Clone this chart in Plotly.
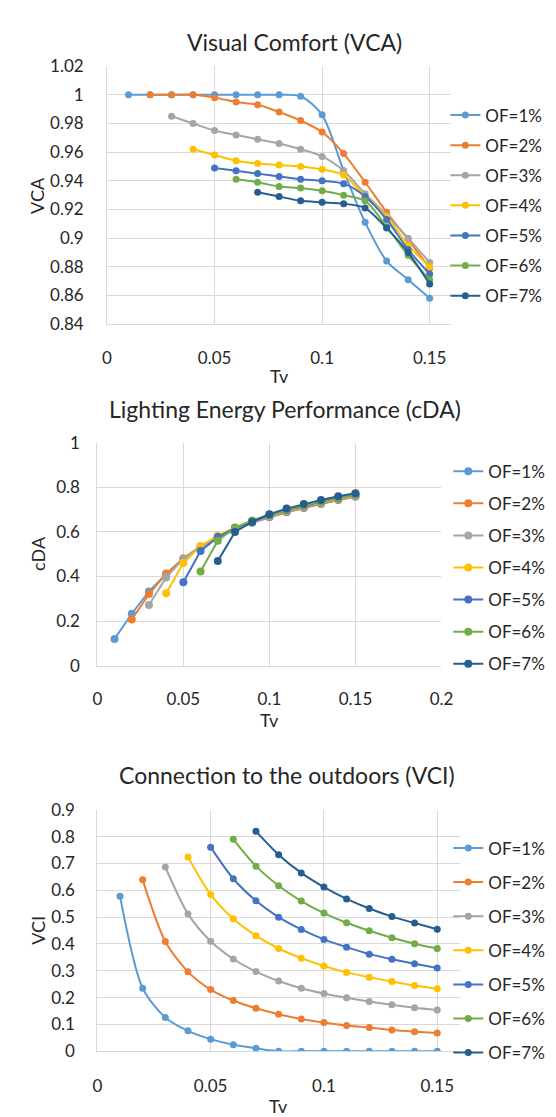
import plotly.graph_objects as go

W, H = 556, 1117

TV = [0.01, 0.02, 0.03, 0.04, 0.05, 0.06, 0.07, 0.08, 0.09, 0.10, 0.11, 0.12, 0.13, 0.14, 0.15]
SERIES = ["OF=1%", "OF=2%", "OF=3%", "OF=4%", "OF=5%", "OF=6%", "OF=7%"]
COLORS = ["#5B9BD5", "#ED7D31", "#A5A5A5", "#FFC000", "#4472C4", "#70AD47", "#255E91"]

# Visual Comfort (VCA); series OF=k% starts at Tv = 0.0k
vca_of1 = [1.000, 1.000, 1.000, 1.000, 1.000, 1.000, 1.000, 1.000, 0.999, 0.986, 0.947, 0.911, 0.884, 0.871, 0.858]
vca_of2 = [1.000, 1.000, 1.000, 0.998, 0.995, 0.993, 0.988, 0.982, 0.974, 0.959, 0.939, 0.918, 0.899, 0.879]
vca_of3 = [0.985, 0.980, 0.975, 0.972, 0.969, 0.966, 0.962, 0.957, 0.947, 0.931, 0.916, 0.900, 0.883]
vca_of4 = [0.962, 0.958, 0.954, 0.952, 0.951, 0.950, 0.948, 0.944, 0.929, 0.915, 0.895, 0.880]
vca_of5 = [0.949, 0.947, 0.945, 0.943, 0.941, 0.940, 0.938, 0.929, 0.913, 0.892, 0.875]
vca_of6 = [0.941, 0.939, 0.936, 0.935, 0.933, 0.930, 0.926, 0.908, 0.888, 0.871]
vca_of7 = [0.932, 0.929, 0.926, 0.925, 0.924, 0.921, 0.907, 0.890, 0.868]

# Lighting Energy Performance (cDA)
cda_of1 = [0.120, 0.233, 0.333, 0.410, 0.478, 0.532, 0.575, 0.610, 0.641, 0.666, 0.688, 0.708, 0.726, 0.743, 0.758]
cda_of2 = [0.207, 0.321, 0.413, 0.482, 0.535, 0.578, 0.613, 0.643, 0.668, 0.690, 0.710, 0.728, 0.745, 0.760]
cda_of3 = [0.272, 0.396, 0.480, 0.535, 0.580, 0.616, 0.646, 0.671, 0.693, 0.713, 0.731, 0.748, 0.762]
cda_of4 = [0.325, 0.461, 0.537, 0.583, 0.619, 0.649, 0.674, 0.696, 0.716, 0.734, 0.751, 0.765]
cda_of5 = [0.374, 0.515, 0.577, 0.618, 0.648, 0.675, 0.698, 0.718, 0.736, 0.753, 0.767]
cda_of6 = [0.423, 0.561, 0.620, 0.652, 0.677, 0.700, 0.720, 0.738, 0.755, 0.769]
cda_of7 = [0.470, 0.600, 0.645, 0.680, 0.705, 0.726, 0.744, 0.760, 0.774]

# Connection to the outdoors (VCI)
vci_of1 = [0.578, 0.235, 0.126, 0.076, 0.045, 0.024, 0.011, 0.000, 0.000, 0.000, 0.000, 0.000, 0.000, 0.000, 0.000]
vci_of2 = [0.639, 0.409, 0.296, 0.230, 0.189, 0.160, 0.138, 0.120, 0.107, 0.096, 0.088, 0.079, 0.073, 0.068]
vci_of3 = [0.687, 0.512, 0.410, 0.344, 0.297, 0.262, 0.235, 0.215, 0.199, 0.185, 0.173, 0.162, 0.154]
vci_of4 = [0.724, 0.584, 0.494, 0.431, 0.383, 0.347, 0.318, 0.294, 0.276, 0.260, 0.245, 0.233]
vci_of5 = [0.761, 0.643, 0.561, 0.500, 0.454, 0.417, 0.388, 0.362, 0.343, 0.326, 0.310]
vci_of6 = [0.790, 0.690, 0.617, 0.560, 0.515, 0.479, 0.449, 0.423, 0.401, 0.383]
vci_of7 = [0.820, 0.733, 0.665, 0.612, 0.568, 0.532, 0.502, 0.478, 0.455]

VCA = [vca_of1, vca_of2, vca_of3, vca_of4, vca_of5, vca_of6, vca_of7]
CDA = [cda_of1, cda_of2, cda_of3, cda_of4, cda_of5, cda_of6, cda_of7]
VCI = [vci_of1, vci_of2, vci_of3, vci_of4, vci_of5, vci_of6, vci_of7]

FONT = "Lato, 'Open Sans', sans-serif"
TXT = "#262626"
GRID = "#D9D9D9"


def px_x(p):
    return p / W


def px_y(p):
    return 1 - p / H


fig = go.Figure()

charts = [
    (VCA, "x", "y", "legend", "spline", 7),
    (CDA, "x2", "y2", "legend2", "linear", 8),
    (VCI, "x3", "y3", "legend3", "spline", 7),
]
for ci, (data, xa, ya, lg, shape, ms) in enumerate(charts):
    for k, vals in enumerate(data):
        fig.add_trace(go.Scatter(
            x=TV[k:], y=vals, name=SERIES[k], mode="lines+markers",
            xaxis=xa, yaxis=ya, legend=lg, legendgroup=f"c{ci}_{k}",
            line=dict(color=COLORS[k], width=2, shape=shape, smoothing=0.8),
            marker=dict(color=COLORS[k], size=ms),
        ))

axis_common = dict(
    showgrid=True, gridcolor=GRID, gridwidth=1, zeroline=False,
    showline=True, linecolor=GRID, linewidth=1,
    tickfont=dict(family=FONT, size=17, color=TXT),
    ticks="outside", tickcolor="rgba(0,0,0,0)",
)

fig.update_layout(
    width=W, height=H, margin=dict(l=0, r=0, t=0, b=0),
    paper_bgcolor="white", plot_bgcolor="white",
    font=dict(family=FONT, color=TXT),
    xaxis=dict(domain=[px_x(97), px_x(452)], range=[0, 0.16], dtick=0.05, anchor="y",
               ticklen=18, **axis_common),
    yaxis=dict(domain=[px_y(311), px_y(48)], range=[0.84, 1.02], dtick=0.02, anchor="x",
               ticklen=19, **axis_common),
    xaxis2=dict(domain=[px_x(87), px_x(442)], range=[0, 0.2], dtick=0.05, anchor="y2",
                ticklen=18, **axis_common),
    yaxis2=dict(domain=[px_y(659), px_y(432)], range=[0, 1], dtick=0.2, anchor="x2",
                ticklen=13, **axis_common),
    xaxis3=dict(domain=[px_x(87), px_x(461)], range=[0, 0.16], dtick=0.05, anchor="y3",
                ticklen=19, **axis_common),
    yaxis3=dict(domain=[px_y(1052), px_y(806)], range=[0, 0.9], dtick=0.1, anchor="x3",
                ticklen=18, **axis_common),
    showlegend=True,
)

leg_common = dict(xanchor="left", yanchor="top", traceorder="grouped",
                  font=dict(family=FONT, size=17, color=TXT),
                  bgcolor="rgba(0,0,0,0)", borderwidth=0, itemwidth=30)
fig.update_layout(
    legend=dict(x=px_x(446), y=px_y(80), tracegroupgap=5, **leg_common),
    legend2=dict(x=px_x(449), y=px_y(443), tracegroupgap=7, **leg_common),
    legend3=dict(x=px_x(449), y=px_y(827), tracegroupgap=9, **leg_common),
)

ann = []
titles = [
    ("Visual Comfort (VCA)", 290, 23),
    ("Lighting Energy Performance (cDA)", 281, 397),
    ("Connection to the outdoors (VCI)", 283, 770),
]
for t, x, y in titles:
    ann.append(dict(text=t, x=px_x(x), y=px_y(y), xref="paper", yref="paper",
                    xanchor="center", yanchor="middle", showarrow=False,
                    font=dict(family=FONT, size=23, color=TXT)))
ytitles = [("VCA", 24, 180), ("cDA", 26, 545), ("VCI", 25, 929)]
for t, x, y in ytitles:
    ann.append(dict(text=t, x=px_x(x), y=px_y(y), xref="paper", yref="paper",
                    xanchor="center", yanchor="middle", showarrow=False, textangle=-90,
                    font=dict(family=FONT, size=18, color=TXT)))
xtitles = [("Tv", 275, 364), ("Tv", 265, 714), ("Tv", 274, 1108)]
for t, x, y in xtitles:
    ann.append(dict(text=t, x=px_x(x), y=px_y(y), xref="paper", yref="paper",
                    xanchor="center", yanchor="middle", showarrow=False,
                    font=dict(family=FONT, size=18, color=TXT)))
fig.update_layout(annotations=ann)

fig.write_html("out.html")
